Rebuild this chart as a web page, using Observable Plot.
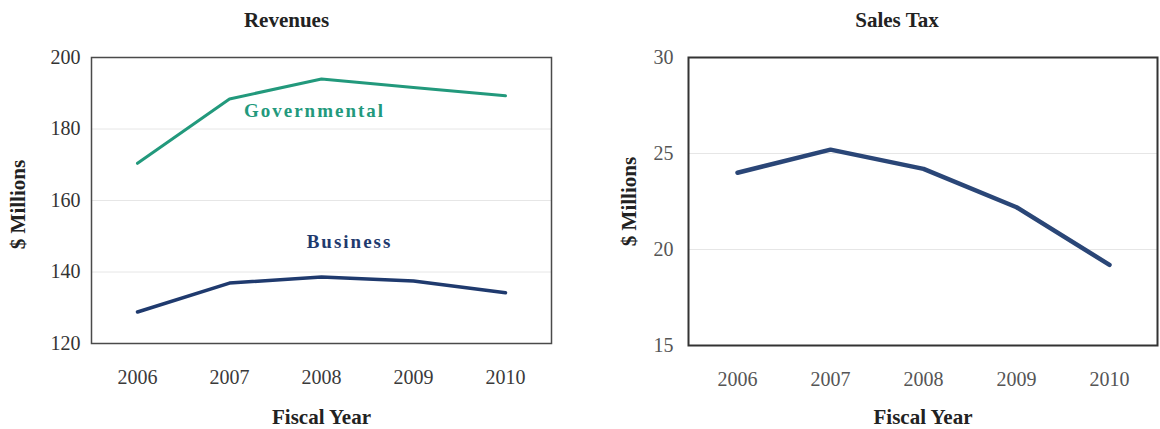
<!DOCTYPE html>
<html>
<head>
<meta charset="utf-8">
<script src="https://cdn.jsdelivr.net/npm/d3@7"></script>
<script src="https://cdn.jsdelivr.net/npm/@observablehq/plot@0.6"></script>
<style>
  html, body { margin: 0; padding: 0; background: #fff; }
  #wrap { display: flex; width: 1160px; height: 429px; }
  svg { font-family: "Liberation Serif", "DejaVu Serif", serif; }
</style>
</head>
<body>
<div id="wrap"></div>
<script>
// ---- data ----
const years = ["2006", "2007", "2008", "2009", "2010"];
const governmental = [170.4, 188.4, 194.0, 191.6, 189.3];
const business = [128.8, 136.9, 138.6, 137.5, 134.2];
const salesTax = [24.0, 25.2, 24.2, 22.2, 19.2];
const revenueTicks = [120, 140, 160, 180, 200];
const taxTicks = [15, 20, 25, 30];
const revenueGrid = [140, 160, 180];
const taxGrid = [20, 25];
const govLabel = [{name: "Governmental", year: "2008", value: 185.2}];
const busLabel = [{name: "Business", year: "2008", value: 148.3}];
const titles = ["Revenues", "Sales Tax"];
const xLabel = "Fiscal Year";
const yLabel = "$ Millions";

const govRows = years.map((y, i) => ({year: y, value: governmental[i]}));
const busRows = years.map((y, i) => ({year: y, value: business[i]}));
const taxRows = years.map((y, i) => ({year: y, value: salesTax[i]}));

const GOV = "#22997c";
const BUS = "#1f3a6e";
const TAX = "#2a4677";

const left = Plot.plot({
  width: 580, height: 429,
  marginLeft: 91, marginRight: 29, marginTop: 57, marginBottom: 86,
  x: {type: "point", domain: years, padding: 0.5},
  y: {domain: [120, 200]},
  marks: [
    Plot.ruleY(revenueGrid, {stroke: "#e6e6e6", strokeWidth: 1}),
    Plot.axisY({ticks: revenueTicks, tickSize: 0, tickPadding: 11, fontSize: 20, color: "#333", label: null, tickFormat: d => String(d)}),
    Plot.axisX({tickSize: 0, tickPadding: 26, fontSize: 20, color: "#3a3a3a", label: null}),
    Plot.line(govRows, {x: "year", y: "value", stroke: GOV, strokeWidth: 3}),
    Plot.line(busRows, {x: "year", y: "value", stroke: BUS, strokeWidth: 3.5}),
    Plot.text(govLabel, {x: "year", y: "value", text: "name", dx: -7, fill: GOV, fontSize: 19, fontWeight: "bold"}),
    Plot.text(busLabel, {x: "year", y: "value", text: "name", dx: 28, fill: BUS, fontSize: 19, fontWeight: "bold"}),
    Plot.frame({stroke: "#4a4a4a", strokeWidth: 1.5}),
    Plot.text([titles[0]], {text: d => d, frameAnchor: "top", lineAnchor: "middle", dy: -37, dx: -35, fontSize: 21, fontWeight: "bold", fill: "#222"}),
    Plot.text([xLabel], {text: d => d, frameAnchor: "bottom", lineAnchor: "middle", dy: 74, fontSize: 21, fontWeight: "bold", fill: "#222"}),
    Plot.text([yLabel], {text: d => d, frameAnchor: "left", textAnchor: "middle", lineAnchor: "middle", dx: -73, dy: 4, rotate: -90, fontSize: 21, fontWeight: "bold", fill: "#222"})
  ]
});

const right = Plot.plot({
  width: 580, height: 429,
  marginLeft: 108, marginRight: 3, marginTop: 57, marginBottom: 84,
  x: {type: "point", domain: years, padding: 0.5},
  y: {domain: [15, 30]},
  marks: [
    Plot.ruleY(taxGrid, {stroke: "#e6e6e6", strokeWidth: 1}),
    Plot.axisY({ticks: taxTicks, tickSize: 0, tickPadding: 15, fontSize: 20, color: "#555", label: null, tickFormat: d => String(d)}),
    Plot.axisX({tickSize: 0, tickPadding: 26, fontSize: 20, color: "#555", label: null}),
    Plot.line(taxRows, {x: "year", y: "value", stroke: TAX, strokeWidth: 4.5}),
    Plot.frame({stroke: "#333", strokeWidth: 2}),
    Plot.text([titles[1]], {text: d => d, frameAnchor: "top", lineAnchor: "middle", dy: -37, dx: -26, fontSize: 21, fontWeight: "bold", fill: "#222"}),
    Plot.text([xLabel], {text: d => d, frameAnchor: "bottom", lineAnchor: "middle", dy: 72, fontSize: 21, fontWeight: "bold", fill: "#222"}),
    Plot.text([yLabel], {text: d => d, frameAnchor: "left", textAnchor: "middle", lineAnchor: "middle", dx: -59, rotate: -90, fontSize: 21, fontWeight: "bold", fill: "#222"})
  ]
});

const wrap = document.getElementById("wrap");
wrap.appendChild(left);
wrap.appendChild(right);

d3.selectAll("svg text").filter(function() {
  return this.textContent === "Governmental" || this.textContent === "Business";
}).style("letter-spacing", "2px");
</script>
</body>
</html>
